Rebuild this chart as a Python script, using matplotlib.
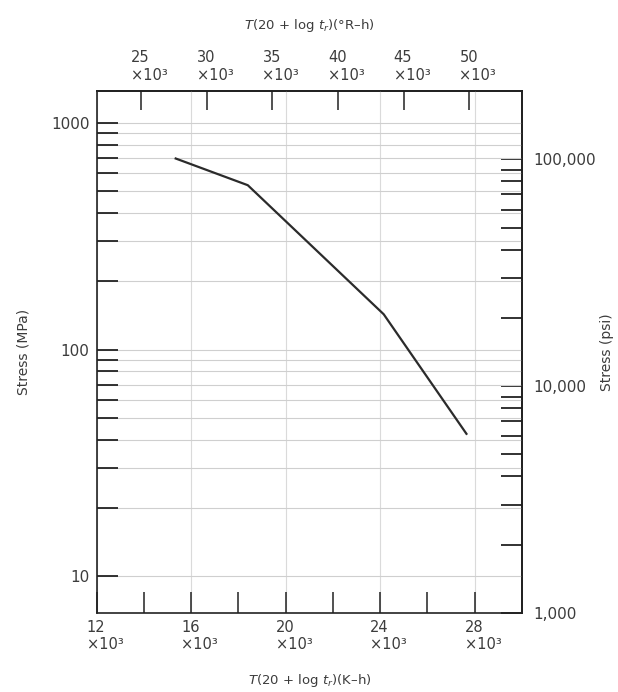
import matplotlib
matplotlib.use("Agg")
import matplotlib.pyplot as plt
import matplotlib.transforms as mtransforms
from matplotlib.ticker import NullFormatter, NullLocator

# Larson-Miller parameter, x10^3 K-h, and rupture stress in MPa
lm_k = [15.35, 18.4, 24.15, 27.65]
stress_mpa = [695, 530, 143, 42.5]

k_major = [12, 16, 20, 24, 28]
k_minor = [14, 18, 22, 26]
rankine_ticks = [25, 30, 35, 40, 45, 50]
mpa_major = [10, 100, 1000]
mpa_major_labels = ["10", "100", "1000"]
mpa_minor = [20, 30, 40, 50, 60, 70, 80, 90, 200, 300, 400, 500, 600, 700, 800, 900]
psi_major = [1000, 10000, 100000]
psi_major_labels = ["1,000", "10,000", "100,000"]
psi_minor = [2000, 3000, 4000, 5000, 6000, 7000, 8000, 9000,
             20000, 30000, 40000, 50000, 60000, 70000, 80000, 90000]

PSI_PER_MPA = 145.038
ink = "#222222"
txt = "#3c3c3c"

plt.rcParams["font.family"] = ["DejaVu Sans"]
plt.rcParams["font.size"] = 10.5
plt.rcParams["text.color"] = txt
plt.rcParams["axes.labelcolor"] = txt
plt.rcParams["xtick.color"] = ink
plt.rcParams["ytick.color"] = ink
plt.rcParams["xtick.labelcolor"] = txt
plt.rcParams["ytick.labelcolor"] = txt

fig = plt.figure(figsize=(6.18, 6.92), dpi=100)
ax = fig.add_axes([96.5 / 618, 1 - 613 / 692, (522 - 96.5) / 618, (613 - 91) / 692])

ax.plot(lm_k, stress_mpa, color="#2b2b2b", lw=1.6, zorder=3)
ax.set_yscale("log")
ax.set_xlim(12, 30)
ax.set_ylim(1000 / PSI_PER_MPA, 200000 / PSI_PER_MPA)

# bottom axis (K-h)
ax.set_xticks(k_major, labels=[f"{v}\n×10³" for v in k_major])
ax.set_xticks(k_minor, minor=True)
ax.xaxis.set_minor_formatter(NullFormatter())
ax.tick_params(axis="x", which="both", direction="in", length=15, width=1.1,
               top=False, pad=5, labelsize=10.5)

# left axis (MPa)
ax.set_yticks(mpa_major, labels=mpa_major_labels)
ax.set_yticks(mpa_minor, minor=True)
ax.yaxis.set_minor_formatter(NullFormatter())
ax.tick_params(axis="y", which="both", direction="in", length=15, width=1.3,
               right=False, pad=5, labelsize=11)

ax.grid(True, axis="y", which="both", color="#cfcfcf", lw=0.8)
ax.grid(True, axis="x", which="major", color="#dadada", lw=0.8)
ax.set_axisbelow(True)
for sp in ax.spines.values():
    sp.set_linewidth(1.2)
    sp.set_color(ink)

# top axis (°R-h)
secx = ax.secondary_xaxis("top", functions=(lambda k: k * 1.8, lambda r: r / 1.8))
secx.set_xticks(rankine_ticks, labels=[f"{v}\n×10³" for v in rankine_ticks])
secx.tick_params(axis="x", which="both", direction="in", length=14, width=1.1,
                 pad=6, labelsize=10.5)
secx.xaxis.set_minor_formatter(NullFormatter())
secx.xaxis.set_minor_locator(NullLocator())
secx.spines["top"].set_linewidth(1.2)

# right axis (psi)
secy = ax.secondary_yaxis("right", functions=(lambda m: m * PSI_PER_MPA, lambda p: p / PSI_PER_MPA))
secy.set_yticks(psi_major, labels=psi_major_labels)
secy.set_yticks(psi_minor, minor=True)
secy.yaxis.set_minor_formatter(NullFormatter())
secy.tick_params(axis="y", which="both", direction="in", length=15, width=1.3,
                 pad=8, labelsize=11)
secy.spines["right"].set_linewidth(1.2)

# tick-label blocks sit a little right of their ticks, lines left-aligned
shift = mtransforms.ScaledTranslation(-10 / 100, 0, fig.dpi_scale_trans)
for tick in ax.xaxis.get_major_ticks() + secx.xaxis.get_major_ticks():
    for lbl in (tick.label1, tick.label2):
        lbl.set_horizontalalignment("left")
        lbl.set_multialignment("left")
        lbl.set_transform(lbl.get_transform() + shift)

ax.set_xlabel(r"$T$(20 + log $t_r$)(K–h)", fontsize=9.5)
ax.xaxis.set_label_coords(0.5, -0.113)
secx.set_xlabel(r"$T$(20 + log $t_r$)(°R–h)", fontsize=9.5)
secx.xaxis.set_label_coords(0.5, 1.118, transform=ax.transAxes)
ax.set_ylabel("Stress (MPa)", fontsize=10)
ax.yaxis.set_label_coords(-0.155, 0.5)
secy.set_ylabel("Stress (psi)", fontsize=10)
secy.yaxis.set_label_coords(1.183, 0.5, transform=ax.transAxes)

fig.savefig("out.png", dpi=100, facecolor="white")
